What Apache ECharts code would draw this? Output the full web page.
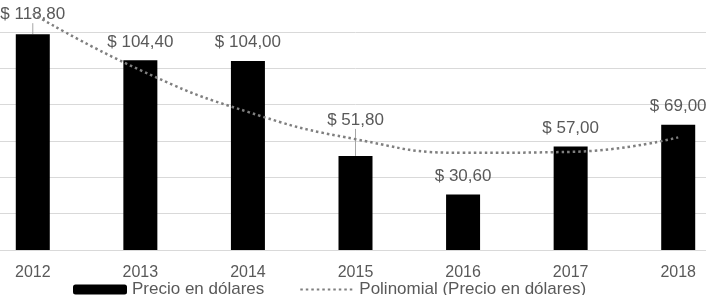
<!DOCTYPE html>
<html>
<head>
<meta charset="utf-8">
<script src="https://cdn.jsdelivr.net/npm/echarts@6/dist/echarts.min.js"></script>
<style>
  html, body { margin: 0; padding: 0; background: #fff; overflow: hidden; }
  #chart { width: 753px; height: 295px; margin-left: -21px; }
</style>
</head>
<body>
<div id="chart"></div>
<script>
"use strict";
// datos
var years = ["2012", "2013", "2014", "2015", "2016", "2017", "2018"];
var precio = [118.80, 104.40, 104.00, 51.80, 30.60, 57.00, 69.00];
// tendencia polinomial
var tendencia = [130, 99, 76, 61, 53.5, 54, 62];

var FONT = "'Liberation Sans', sans-serif";
var GRIS = "#595959";

var chart = echarts.init(document.getElementById("chart"));

function etiqueta(v) {
    return "$ " + v.toFixed(2).replace(".", ",");
}

// solo algunas etiquetas llevan linea guia
var barData = precio.map(function (v, i) {
    var item = {value: v};
    if (i === 0 || i === 3) item.labelLine = {show: true};
    return item;
});

var option = {
    animation: false,
    textStyle: {fontFamily: FONT},
    grid: {left: 0, right: 0, top: 32, bottom: 45},
    legend: {
        left: 89,
        top: 276,
        itemWidth: 54,
        itemHeight: 10,
        itemGap: 35,
        textStyle: {color: GRIS, fontSize: 17, fontFamily: FONT},
        data: [
            {name: "Precio en dólares"},
            {name: "Polinomial (Precio en dólares)", itemStyle: {color: "rgba(0,0,0,0)", borderWidth: 0}}
        ]
    },
    xAxis: {
        type: "category",
        data: years,
        axisLine: {lineStyle: {color: "#d9d9d9"}},
        axisTick: {show: false},
        axisLabel: {color: GRIS, fontSize: 16, margin: 15, fontFamily: FONT}
    },
    yAxis: {
        type: "value",
        min: 0,
        max: 120,
        interval: 20,
        axisLabel: {show: false},
        axisLine: {show: false},
        axisTick: {show: false},
        splitLine: {lineStyle: {color: "#d9d9d9", width: 1}}
    },
    series: [{
        name: "Precio en dólares",
        type: "bar",
        barWidth: 34,
        itemStyle: {color: "#000000"},
        label: {
            show: true,
            position: "top",
            distance: 10,
            color: GRIS,
            fontSize: 17,
            fontFamily: FONT,
            formatter: function (p) { return etiqueta(p.value); }
        },
        labelLine: {show: false, lineStyle: {color: "#a6a6a6", width: 1}},
        labelLayout: function (p) {
            if (p.dataIndex === 3) return {dy: -17};
            if (p.dataIndex === 0) return {dy: -1};
            return {};
        },
        data: barData
    }, {
        name: "Polinomial (Precio en dólares)",
        type: "line",
        smooth: true,
        symbol: "none",
        clip: false,
        z: 5,
        lineStyle: {color: "#7f7f7f", width: 2.5, type: [2.5, 3]},
        itemStyle: {color: "#7f7f7f"},
        data: tendencia
    }]
};

chart.setOption(option);
</script>
</body>
</html>
